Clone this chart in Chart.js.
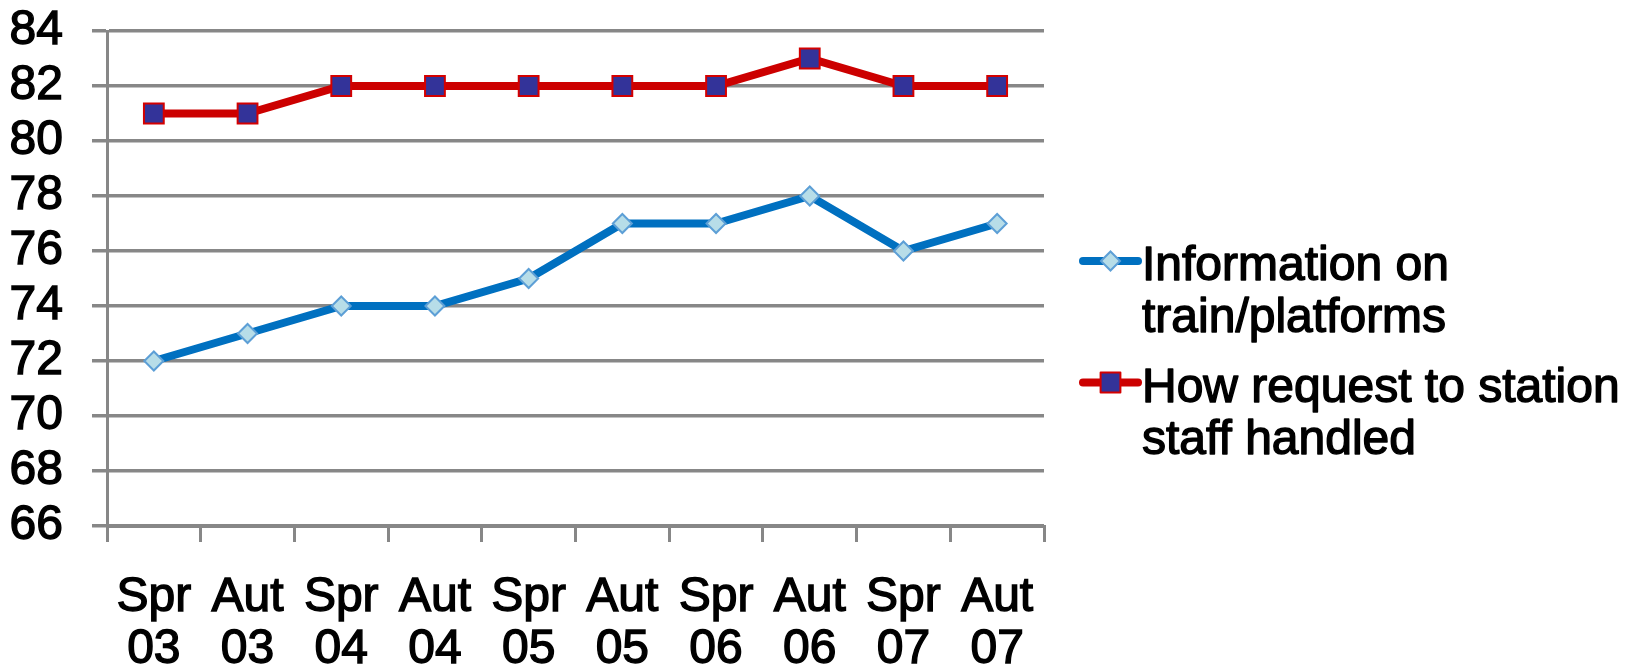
<!DOCTYPE html>
<html>
<head>
<meta charset="utf-8">
<title>Passenger satisfaction</title>
<script src="https://cdn.jsdelivr.net/npm/chart.js@4/dist/chart.umd.min.js"></script>
<style>
  html, body { margin: 0; padding: 0; background: #ffffff; }
  #wrap { width: 1639px; height: 671px; }
</style>
</head>
<body>
<div id="wrap"><canvas id="chart" width="1639" height="671"></canvas></div>
<script>
// Survey waves (spring / autumn)
const categories = [
  ['Spr', '03'], ['Aut', '03'], ['Spr', '04'], ['Aut', '04'], ['Spr', '05'],
  ['Aut', '05'], ['Spr', '06'], ['Aut', '06'], ['Spr', '07'], ['Aut', '07']
];

// Satisfaction scores (%)
const infoOnTrainPlatforms = [72, 73, 74, 74, 75, 77, 77, 78, 76, 77];
const staffRequestHandled = [81, 81, 82, 82, 82, 82, 82, 83, 82, 82];

// Series names, split over two lines in the legend
const seriesNames = [
  ['Information on', 'train/platforms'],
  ['How request to station', 'staff handled']
];

// Value axis
const yMin = 66;
const yMax = 84;
const yStep = 2;

const FONT = "'Liberation Sans', Arial, Helvetica, sans-serif";
const GRID = '#878787';
const TEXT_STROKE = 1.4;

// Draws a legend marker in the same shape as the plotted points
function drawMarker(ctx, style, r, x, y, fill, stroke, bw) {
  ctx.beginPath();
  if (style === 'rectRot') {
    ctx.moveTo(x - r, y);
    ctx.lineTo(x, y - r);
    ctx.lineTo(x + r, y);
    ctx.lineTo(x, y + r);
    ctx.closePath();
  } else {
    const s = r * Math.SQRT1_2;
    ctx.rect(x - s, y - s, 2 * s, 2 * s);
  }
  ctx.fillStyle = fill;
  ctx.fill();
  ctx.lineWidth = bw;
  ctx.strokeStyle = stroke;
  ctx.stroke();
}

// Legend to the right of the plot: line sample with marker, then wrapped text
const sideLegend = {
  id: 'sideLegend',
  afterDraw(chart, args, opts) {
    const ctx = chart.ctx;
    ctx.save();
    chart.data.datasets.forEach((ds, i) => {
      const cy = opts.top + i * opts.itemGap;
      ctx.strokeStyle = ds.borderColor;
      ctx.lineWidth = ds.borderWidth;
      ctx.lineCap = 'round';
      ctx.beginPath();
      ctx.moveTo(opts.left, cy);
      ctx.lineTo(opts.left + opts.lineLength, cy);
      ctx.stroke();
      drawMarker(ctx, ds.pointStyle, ds.pointRadius,
        opts.left + opts.lineLength / 2, cy,
        ds.pointBackgroundColor, ds.pointBorderColor, ds.pointBorderWidth);

      ctx.fillStyle = '#000000';
      ctx.strokeStyle = '#000000';
      ctx.lineWidth = TEXT_STROKE;
      ctx.lineJoin = 'round';
      ctx.font = opts.fontSize + 'px ' + FONT;
      ctx.textAlign = 'left';
      ctx.textBaseline = 'alphabetic';
      seriesNames[i].forEach((line, k) => {
        const ty = cy + opts.baselineOffset + k * opts.lineHeight;
        ctx.strokeText(line, opts.textX, ty);
        ctx.fillText(line, opts.textX, ty);
      });
    });
    ctx.restore();
  }
};

// Keep the plot area fixed: the tick padding only spaces the labels
function noEdgePadding(scale) {
  scale.paddingTop = 0;
  scale.paddingBottom = 0;
  scale.paddingLeft = 0;
  scale.paddingRight = 0;
}

new Chart(document.getElementById('chart'), {
  type: 'line',
  data: {
    labels: categories,
    datasets: [
      {
        label: seriesNames[0].join(' '),
        data: infoOnTrainPlatforms,
        borderColor: '#0070c0',
        borderWidth: 8,
        tension: 0,
        pointStyle: 'rectRot',
        pointRadius: 9.5,
        pointBackgroundColor: '#b7dde8',
        pointBorderColor: '#5d9fd6',
        pointBorderWidth: 2
      },
      {
        label: seriesNames[1].join(' '),
        data: staffRequestHandled,
        borderColor: '#cc0000',
        borderWidth: 8,
        tension: 0,
        pointStyle: 'rect',
        pointRadius: 14,
        pointBackgroundColor: '#333399',
        pointBorderColor: '#d40000',
        pointBorderWidth: 2
      }
    ]
  },
  options: {
    responsive: false,
    devicePixelRatio: 1,
    animation: false,
    layout: { padding: { top: 31, left: 10, right: 595, bottom: 0 } },
    plugins: {
      legend: { display: false },
      tooltip: { enabled: false },
      sideLegend: {
        left: 1083,
        lineLength: 55,
        textX: 1142,
        top: 261,
        itemGap: 121.5,
        fontSize: 48,
        lineHeight: 52,
        baselineOffset: 19
      }
    },
    scales: {
      x: {
        type: 'category',
        offset: true,
        grid: {
          offset: true,
          drawOnChartArea: false,
          drawTicks: true,
          tickLength: 16,
          color: GRID,
          lineWidth: 3
        },
        border: { display: true, color: GRID, width: 3 },
        ticks: {
          color: '#000000',
          textStrokeColor: '#000000',
          textStrokeWidth: TEXT_STROKE,
          maxRotation: 0,
          autoSkip: false,
          padding: 30,
          font: { family: FONT, size: 48, lineHeight: 52 / 48 }
        },
        afterFit(scale) { noEdgePadding(scale); scale.height = 145; }
      },
      y: {
        min: yMin,
        max: yMax,
        grid: {
          drawOnChartArea: true,
          drawTicks: true,
          tickLength: 15,
          color: GRID,
          lineWidth: 3.5
        },
        border: { display: true, color: GRID, width: 3 },
        ticks: {
          stepSize: yStep,
          autoSkip: false,
          color: '#000000',
          textStrokeColor: '#000000',
          textStrokeWidth: TEXT_STROKE,
          padding: 29,
          font: { family: FONT, size: 48, lineHeight: 52 / 48 }
        },
        afterFit(scale) { noEdgePadding(scale); scale.width = 97; }
      }
    }
  },
  plugins: [sideLegend]
});
</script>
</body>
</html>
